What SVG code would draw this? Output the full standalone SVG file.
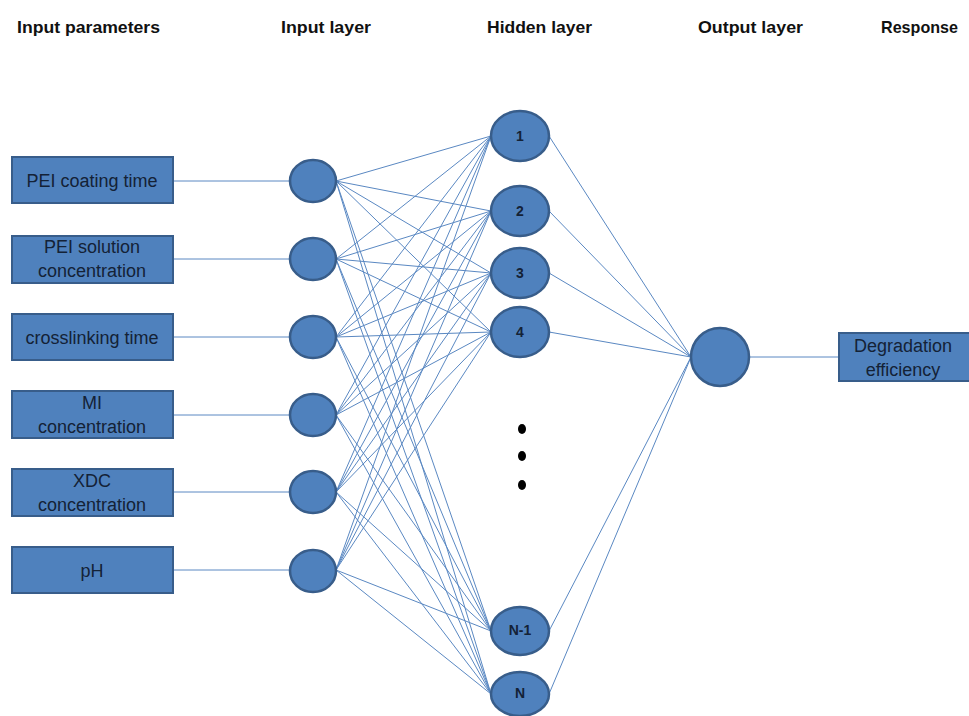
<svg xmlns="http://www.w3.org/2000/svg" width="969" height="716" viewBox="0 0 969 716">
<style>
.hdr{font-family:"Liberation Sans",Arial,sans-serif;font-weight:bold;font-size:17px;fill:#111}
.box{fill:#4f81bd;stroke:#385d8a;stroke-width:2}
.node{fill:#4f81bd;stroke:#385d8a;stroke-width:2.5}
.bt{font-family:"Liberation Sans",Arial,sans-serif;font-size:18px;fill:#142236;text-anchor:middle}
.nt{font-family:"Liberation Sans",Arial,sans-serif;font-weight:bold;font-size:14px;fill:#142236;text-anchor:middle}
.ln{stroke:#5a88c2;stroke-width:1;fill:none}
</style>
<rect width="969" height="716" fill="#fff"/>
<g id="headers">
<text class="hdr" x="17" y="33" textLength="143" lengthAdjust="spacingAndGlyphs">Input parameters</text>
<text class="hdr" x="281" y="33" textLength="90" lengthAdjust="spacingAndGlyphs">Input layer</text>
<text class="hdr" x="487" y="33" textLength="105" lengthAdjust="spacingAndGlyphs">Hidden layer</text>
<text class="hdr" x="698" y="33" textLength="105" lengthAdjust="spacingAndGlyphs">Output layer</text>
<text class="hdr" x="881" y="33" textLength="77" lengthAdjust="spacingAndGlyphs">Response</text>
</g>
<g id="connectors">
<path class="ln" d="M173 181H290M173 259H290M173 337H290M173 415H290M173 492H290M173 570H290M749 357H839"/>
<path class="ln" d="M336 181L491 136M336 181L491 211M336 181L491 273M336 181L491 332M336 181L491 631M336 181L491 694
M336 259L491 136M336 259L491 211M336 259L491 273M336 259L491 332M336 259L491 631M336 259L491 694
M336 337L491 136M336 337L491 211M336 337L491 273M336 337L491 332M336 337L491 631M336 337L491 694
M336 415L491 136M336 415L491 211M336 415L491 273M336 415L491 332M336 415L491 631M336 415L491 694
M336 492L491 136M336 492L491 211M336 492L491 273M336 492L491 332M336 492L491 631M336 492L491 694
M336 570L491 136M336 570L491 211M336 570L491 273M336 570L491 332M336 570L491 631M336 570L491 694"/>
<path class="ln" d="M549 136L691 357M549 211L691 357M549 273L691 357M549 332L691 357M549 631L691 357M549 694L691 357"/>
</g>
<g id="in1"><rect class="box" x="12" y="157" width="161" height="46"/><text class="bt" x="92" y="187">PEI coating time</text></g>
<g id="in2"><rect class="box" x="12" y="236" width="161" height="47"/><text class="bt" x="92" y="253">PEI solution</text><text class="bt" x="92" y="277">concentration</text></g>
<g id="in3"><rect class="box" x="12" y="314" width="161" height="46"/><text class="bt" x="92" y="344">crosslinking time</text></g>
<g id="in4"><rect class="box" x="12" y="391" width="161" height="47"/><text class="bt" x="92" y="409">MI</text><text class="bt" x="92" y="433">concentration</text></g>
<g id="in5"><rect class="box" x="12" y="469" width="161" height="47"/><text class="bt" x="92" y="487">XDC</text><text class="bt" x="92" y="511">concentration</text></g>
<g id="in6"><rect class="box" x="12" y="547" width="161" height="46"/><text class="bt" x="92" y="577">pH</text></g>
<g id="i1"><ellipse class="node" cx="313" cy="181" rx="23" ry="21"/></g>
<g id="i2"><ellipse class="node" cx="313" cy="259" rx="23" ry="21"/></g>
<g id="i3"><ellipse class="node" cx="313" cy="337" rx="23" ry="21"/></g>
<g id="i4"><ellipse class="node" cx="313" cy="415" rx="23" ry="21"/></g>
<g id="i5"><ellipse class="node" cx="313" cy="492" rx="23" ry="21"/></g>
<g id="i6"><ellipse class="node" cx="313" cy="571" rx="23" ry="21"/></g>
<g id="h1"><ellipse class="node" cx="520" cy="136" rx="29" ry="25"/><text class="nt" x="520" y="141">1</text></g>
<g id="h2"><ellipse class="node" cx="520" cy="211" rx="29" ry="25"/><text class="nt" x="520" y="216">2</text></g>
<g id="h3"><ellipse class="node" cx="520" cy="273" rx="29" ry="25"/><text class="nt" x="520" y="278">3</text></g>
<g id="h4"><ellipse class="node" cx="520" cy="332" rx="29" ry="25"/><text class="nt" x="520" y="337">4</text></g>
<g id="dots" fill="#000"><ellipse cx="522" cy="429" rx="4" ry="5"/><ellipse cx="522" cy="456" rx="4" ry="5"/><ellipse cx="522" cy="485" rx="4" ry="5"/></g>
<g id="hN1"><ellipse class="node" cx="520" cy="631" rx="29" ry="24"/><text class="nt" x="520" y="635" font-size="12">N-1</text></g>
<g id="hN"><ellipse class="node" cx="520" cy="694" rx="29" ry="22"/><text class="nt" x="520" y="698" font-size="12">N</text></g>
<g id="out"><ellipse class="node" cx="720" cy="357" rx="29" ry="29"/></g>
<g id="resp"><rect class="box" x="839" y="333" width="136" height="48"/><text class="bt" x="903" y="352">Degradation</text><text class="bt" x="903" y="376">efficiency</text></g>
</svg>
